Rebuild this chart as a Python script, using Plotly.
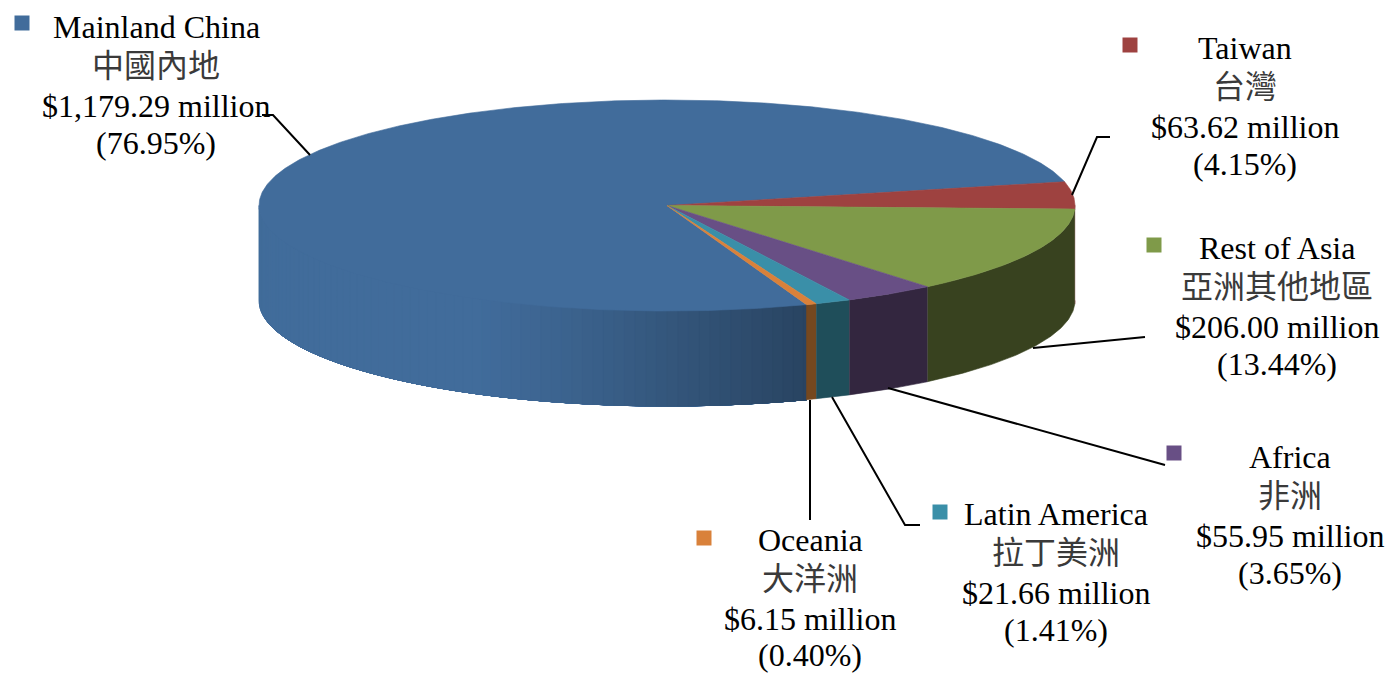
import numpy as np
import plotly.graph_objects as go

# ---- data ----
categories_en = ["Mainland China", "Taiwan", "Rest of Asia", "Africa", "Latin America", "Oceania"]
categories_zh = ["中國內地", "台灣", "亞洲其他地區", "非洲", "拉丁美洲", "大洋洲"]
values_musd = [1179.29, 63.62, 206.00, 55.95, 21.66, 6.15]
value_labels = ["$1,179.29 million", "$63.62 million", "$206.00 million",
                "$55.95 million", "$21.66 million", "$6.15 million"]
percent_labels = ["(76.95%)", "(4.15%)", "(13.44%)", "(3.65%)", "(1.41%)", "(0.40%)"]

# ---- styling / layout ----
top_colors = ["#416C9B", "#9E4240", "#7F9A49", "#684F85", "#3A8FA8", "#D9813A"]
side_colors = ["#416C9B", "#6E2E2C", "#38421F", "#33263F", "#1F4E5A", "#75481F"]
W, H = 1389, 673
CX, CY, RX, RY, DEPTH = 667, 205.5, 408, 105.5, 95
# Taiwan's slice starts at this ellipse parameter (degrees, clockwise from east)
TAIWAN_START = -13.0
label_x = [156, 1245, 1277, 1290, 1056, 810]
label_y = [27, 48, 248, 457, 514, 540]
line_offsets = [0, 39, 78.5, 116]
last_line_lift = [0, 0, 0, 0, 0, 1]
key_x = [22, 1130, 1154, 1174, 940, 704]
key_y = [23, 45, 245, 453, 512, 538]
leaders = [
    ([262, 273, 310], [115, 115, 155]),
    ([1110, 1097, 1072], [137, 137, 195]),
    ([1145, 1033], [337, 348]),
    ([1165, 888], [465, 388]),
    ([920, 905, 832], [525, 525, 397]),
    ([810, 810], [520, 400]),
]


def shade(hex_color, k):
    r, g, b = (int(hex_color[i:i + 2], 16) for i in (1, 3, 5))
    return f"rgb({r * k:.0f},{g * k:.0f},{b * k:.0f})"


def ell(t_deg):
    t = np.radians(t_deg)
    return CX + RX * np.cos(t), CY + RY * np.sin(t)


total = sum(values_musd)
sweeps = [v / total * 360 for v in values_musd]
# clockwise order from Taiwan round to Mainland China, which closes the circle
order = [1, 2, 3, 4, 5, 0]
spans = {}
t0 = TAIWAN_START
for i in order:
    spans[i] = (t0, t0 + sweeps[i])
    t0 += sweeps[i]

fig = go.Figure()


def poly(xs, ys, color, width=0.6):
    fig.add_trace(go.Scatter(x=xs, y=ys, mode="lines", fill="toself", fillcolor=color,
                             line=dict(color=color, width=width), hoverinfo="skip", showlegend=False))


def wall(lo, hi, color, width=0.6):
    tt = np.linspace(lo, hi, max(3, int((hi - lo) * 2)))
    xs, ys = ell(tt)
    poly(list(xs) + list(xs[::-1]), list(ys) + list((ys + DEPTH)[::-1]), color, width)


# side wall of the big slice: overlapping bands painted from its left end to its right end
a0, b0 = spans[0]
vis_lo, vis_hi = max(a0, 0), min(b0, 180)
for s in np.arange(vis_hi, vis_lo, -1.5):
    xm, _ = ell(s)
    frac = np.clip((xm - 470) / (806 - 470), 0, 1)
    k = 1.0 - 0.38 * frac ** 1.15
    wall(vis_lo, s, shade(side_colors[0], k))

# side walls of the other slices
for i in order[:-1]:
    a, b = spans[i]
    lo, hi = max(a, 0), min(b, 180)
    if lo < hi:
        wall(lo, hi, side_colors[i])

# top face
for i in range(6):
    a, b = spans[i]
    tt = np.linspace(a, b, max(6, int((b - a) * 2)))
    xs, ys = ell(tt)
    poly([CX] + list(xs) + [CX], [CY] + list(ys) + [CY], top_colors[i])

# leader lines
for lx, ly in leaders:
    fig.add_trace(go.Scatter(x=lx, y=ly, mode="lines", line=dict(color="#000000", width=2),
                             hoverinfo="skip", showlegend=False))

# legend keys
fig.add_trace(go.Scatter(x=key_x, y=key_y, mode="markers",
                         marker=dict(symbol="square", size=15, color=top_colors, line=dict(width=0)),
                         hoverinfo="skip", showlegend=False))

# labels
for i in range(len(categories_en)):
    lines = [categories_en[i], categories_zh[i], value_labels[i], percent_labels[i]]
    for j, txt in enumerate(lines):
        y = label_y[i] + line_offsets[j] - (last_line_lift[i] if j == 3 else 0)
        fig.add_annotation(x=label_x[i], y=y, text=txt, showarrow=False,
                           xanchor="center", yanchor="middle", borderpad=0,
                           font=dict(family="'Liberation Serif', 'Noto Sans CJK TC', serif", size=32,
                                     color="#3a3a3a" if j == 1 else "#000000"))

fig.update_layout(
    width=W, height=H, margin=dict(l=0, r=0, t=0, b=0),
    paper_bgcolor="white", plot_bgcolor="white", showlegend=False,
    xaxis=dict(range=[0, W], visible=False, fixedrange=True),
    yaxis=dict(range=[H, 0], visible=False, fixedrange=True),
)
fig.write_html("out.html", post_script="document.body.style.margin='0';document.body.style.overflow='hidden';",
               config={"displayModeBar": False})
